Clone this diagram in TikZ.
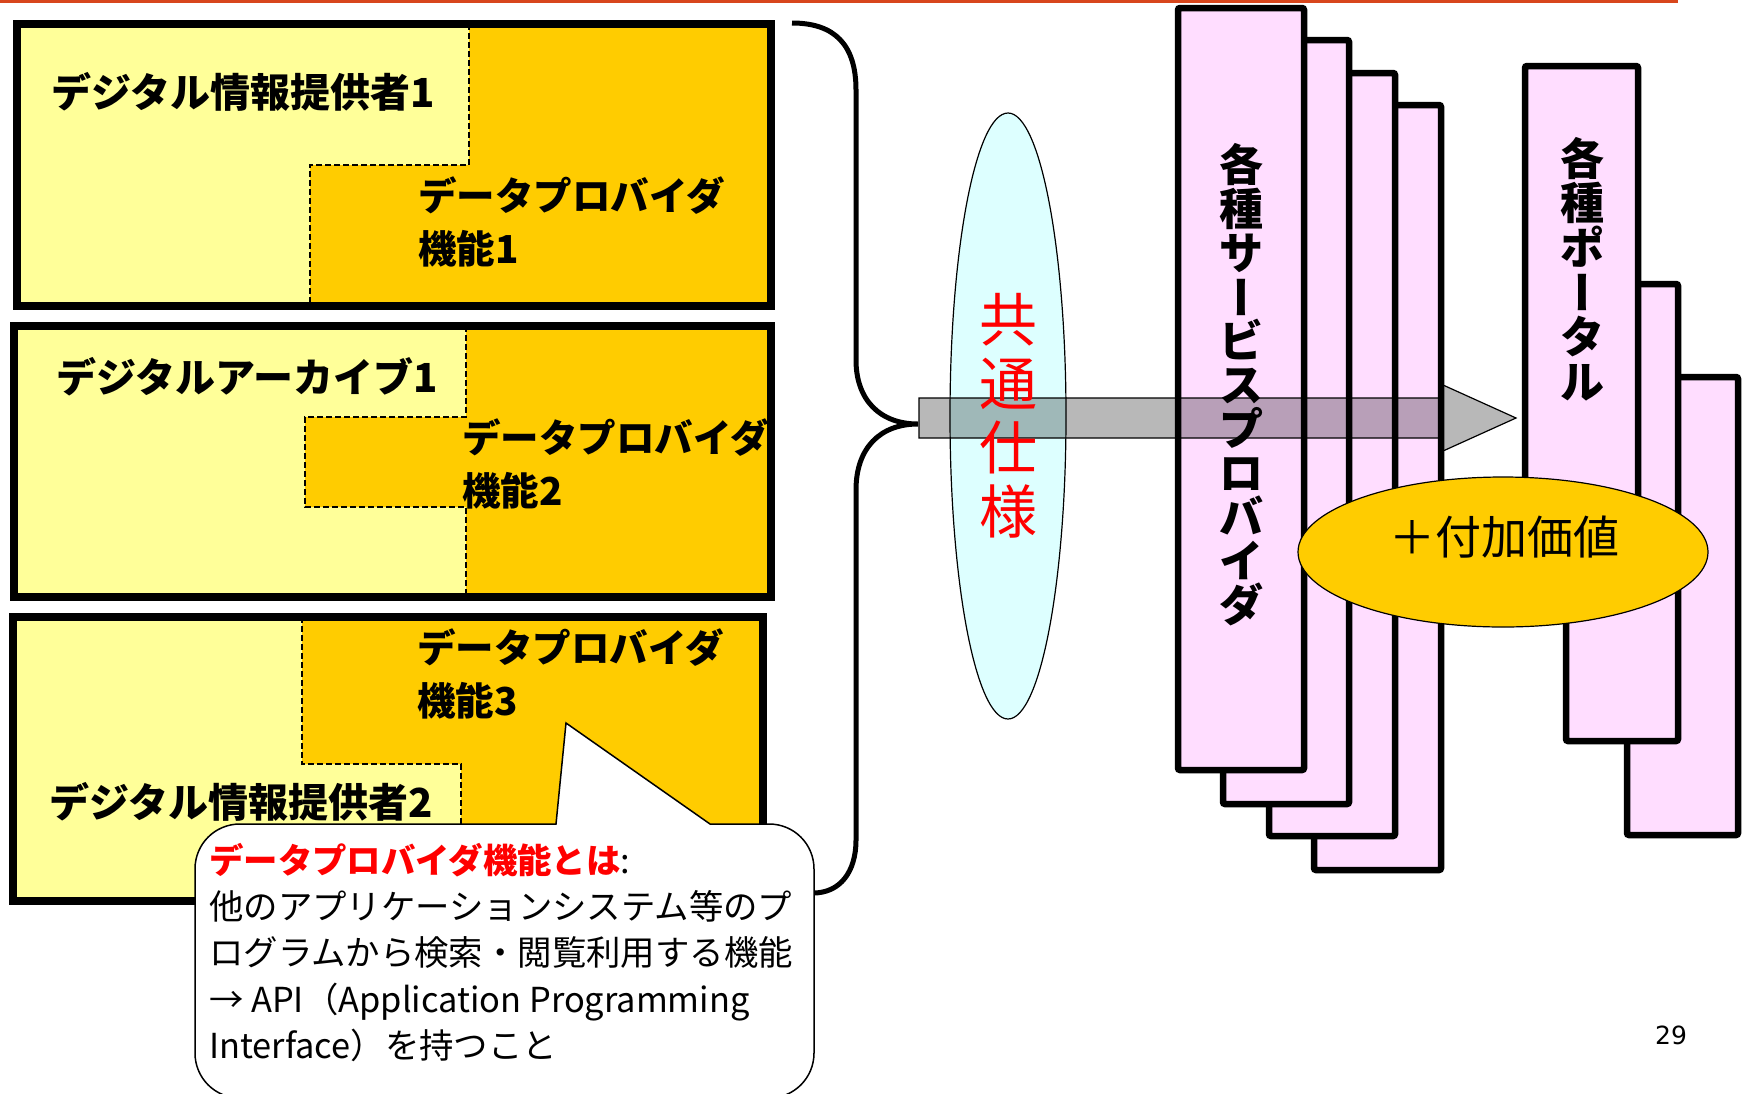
\documentclass[tikz,border=0pt]{standalone}
\usepackage{fontspec}
\setmainfont{Noto Sans CJK JP}
\newfontfamily\pagefont{DejaVu Sans}
\usetikzlibrary{positioning,shapes.geometric}

\definecolor{rulered}{RGB}{216,70,28}
\definecolor{provyellow}{RGB}{255,255,153}
\definecolor{apigold}{RGB}{255,204,0}
\definecolor{svcpink}{RGB}{255,221,255}
\definecolor{speccyan}{RGB}{221,255,255}

% vertical long-vowel bar for stacked text
\newcommand{\vlong}{\rotatebox[origin=c]{-90}{\raisebox{0pt}[0.88em][0.12em]{ー}}}

\tikzset{
  provframe/.style={draw=black, line width=8pt},
  splitline/.style={draw=black, line width=1.5pt, dash pattern=on 6pt off 3pt},
  provtext/.style={anchor=west, inner sep=0pt, align=left, font=\bfseries\fontsize{40}{53}\selectfont},
  apitext/.style={provtext, font=\bfseries\fontsize{38.5}{53}\selectfont},
  bubble/.style={fill=white, draw=black, line width=1.5pt},
  notetext/.style={anchor=west, inner sep=0pt, align=left, font=\fontsize{34.4}{46.3}\selectfont},
  specoval/.style={ellipse, draw=black, line width=1.2pt, fill=speccyan, minimum width=116pt, minimum height=606pt, inner sep=0pt},
  spectext/.style={inner sep=0pt, align=center, text=red, font=\fontsize{58}{64}\selectfont},
  stackbox/.style={fill=svcpink, draw=black, line width=6.5pt, rounded corners=2pt},
  stacktext/.style={inner sep=0pt, align=center, font=\bfseries\fontsize{44}{44}\selectfont},
  flowarrow/.style={fill=black, fill opacity=0.28, draw=black, line width=1.2pt},
  valueoval/.style={fill=apigold, draw=black, line width=1.2pt},
  valuetext/.style={inner sep=0pt, font=\fontsize{46}{50}\selectfont},
  pagenum/.style={inner sep=0pt, font=\pagefont\fontsize{25}{30}\selectfont}
}

\begin{document}
\begin{tikzpicture}[x=1pt,y=-1pt]
\useasboundingbox (0,0) rectangle (1745,1093);
\clip (0,0) rectangle (1745,1093);

% title rule
\draw[rulered, line width=3pt] (0,1.5) -- (1678,1.5);

% provider 1
\fill[provyellow] (17,24) rectangle (771,306);
\fill[apigold] (469,24) -- (771,24) -- (771,306) -- (310,306) -- (310,165) -- (469,165) -- cycle;
\draw[splitline] (469,24) -- (469,165) -- (310,165) -- (310,306);
\draw[provframe] (17,24) rectangle (771,306);
\node[provtext] (prov1) at (51,92) {デジタル情報提供者1};
\node[apitext] (api1) at (418,221.5) {データプロバイダ\\機能1};

% archive
\fill[provyellow] (14,326) rectangle (771,597);
\fill[apigold] (466,326) -- (771,326) -- (771,597) -- (466,597) -- (466,507) -- (305,507) -- (305,417) -- (466,417) -- cycle;
\draw[splitline] (466,326) -- (466,417) -- (305,417) -- (305,507) -- (466,507) -- (466,597);
\draw[provframe] (14,326) rectangle (771,597);
\node[provtext] (arch1) at (56,377) {デジタルアーカイブ1};
\node[apitext] (api2) at (462,463.5) {データプロバイダ\\機能2};

% provider 2
\fill[provyellow] (13,617) rectangle (763,901);
\fill[apigold] (302,617) -- (763,617) -- (763,901) -- (461,901) -- (461,764) -- (302,764) -- cycle;
\draw[splitline] (302,617) -- (302,764) -- (461,764) -- (461,901);
\draw[provframe] (13,617) rectangle (763,901);
\node[apitext] (api3) at (417,674) {データプロバイダ\\機能3};
\node[provtext] (prov2) at (49,802) {デジタル情報提供者2};

% brace
\draw[line width=5pt] (792,23) .. controls (835,23) and (856,45) .. (856,90) -- (856,360)
  .. controls (856,400) and (880,424) .. (918,424)
  .. controls (880,424) and (856,448) .. (856,490) -- (856,840)
  .. controls (856,872) and (840,893) .. (813,893);

% callout
\draw[bubble] (556,824) -- (566,723) -- (710,824) -- (769,824)
  .. controls (794,824) and (814,844) .. (814,869) -- (814,1053)
  .. controls (814,1078) and (794,1098) .. (769,1098) -- (240,1098)
  .. controls (215,1098) and (195,1078) .. (195,1053) -- (195,869)
  .. controls (195,844) and (215,824) .. (240,824) -- cycle;
\node[notetext] (note) at (209,952.5) {{\color{red}\bfseries データプロバイダ機能とは}:\\
他のアプリケーションシステム等のプ\\
ログラムから検索・閲覧利用する機能\\
→ API（Application Programming\\
Interface）を持つこと};

% common spec
\node[specoval] (spec) at (1008,416) {};

% service providers
\draw[stackbox] (1314,105) rectangle (1441,870);
\draw[stackbox] (1269,73) rectangle (1395,836);
\draw[stackbox] (1223,40) rectangle (1349,804);
\draw[stackbox] (1178,8) rectangle (1304,770);

% portals
\draw[stackbox] (1627,377) rectangle (1738,835);
\draw[stackbox] (1566,284) rectangle (1678,741);
\draw[stackbox] (1525,66) rectangle (1638,524);

% flow
\draw[flowarrow] (919,398) -- (1443,398) -- (1443,385) -- (1516,418) -- (1443,451) -- (1443,438) -- (919,438) -- cycle;

\node[spectext] (spectxt) at (1008,416) {共\\通\\仕\\様};
\node[stacktext] (svc) at (1241,385) {各\\種\\サ\\\vlong\\ビ\\ス\\プ\\ロ\\バ\\イ\\ダ};
\node[stacktext, font=\bfseries\fontsize{44}{44.7}\selectfont] (portal) at (1582,269) {各\\種\\ポ\\\vlong\\タ\\ル};

% added value
\draw[valueoval] (1503,552) ellipse [x radius=205, y radius=75];
\node[valuetext] (value) at (1504,537) {＋付加価値};

\node[pagenum] (page) at (1671,1035) {29};
\end{tikzpicture}
\end{document}
